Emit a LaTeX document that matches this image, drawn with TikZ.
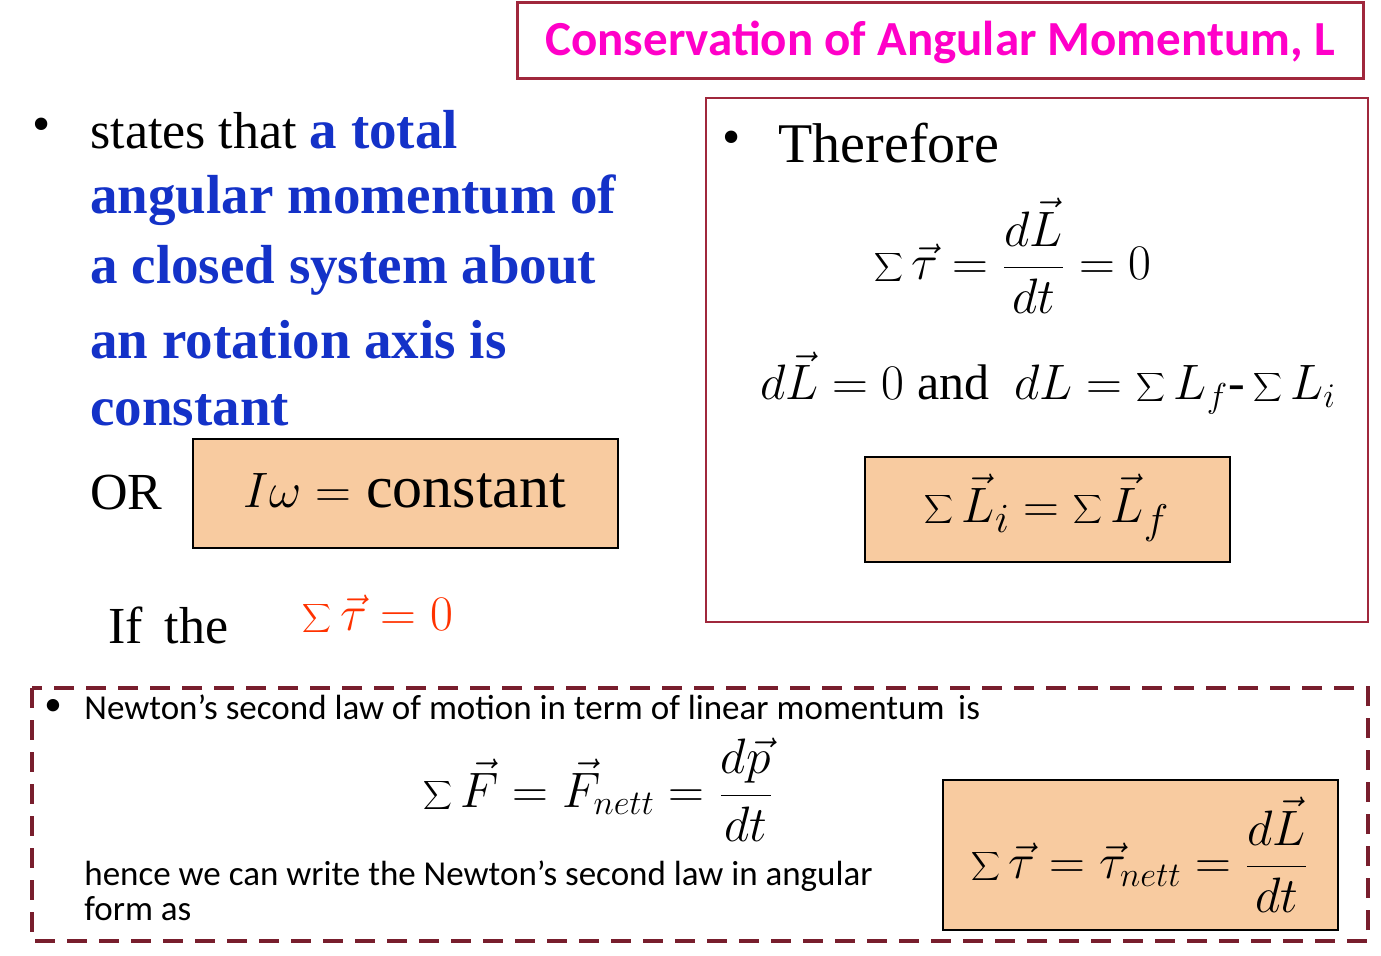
\documentclass[tikz,border=0pt]{standalone}
\usepackage{fontspec}
\setmainfont{Liberation Serif}
\newfontfamily\calib{Carlito}
\definecolor{dred}{RGB}{160,40,60}
\definecolor{bred}{RGB}{120,30,45}
\definecolor{obox}{RGB}{248,203,160}
\definecolor{tblue}{RGB}{20,50,200}
\definecolor{tmag}{RGB}{255,0,200}
\definecolor{tred}{RGB}{255,50,0}
\tikzset{
 orbox/.style={draw=black,line width=1pt,fill=obox},
 bt/.style={font=\fontsize{26}{30}\selectfont,anchor=west,inner sep=0},
 bl/.style={font=\fontsize{27.5}{30}\selectfont\bfseries,text=tblue,anchor=west,inner sep=0},
 cal/.style={font=\calib\fontsize{17.5}{18}\selectfont,anchor=west,inner sep=0},
 mth/.style={font=\fontsize{25}{30}\selectfont,inner sep=0}
}
\begin{document}
\begin{tikzpicture}[x=0.5pt,y=-0.5pt]
\useasboundingbox (0,0) rectangle (1381,955);
% title
\draw[dred,line width=1.5pt] (517,2) rectangle (1363,78);
\node (title) at (940,42) {\calib\bfseries\fontsize{24.5}{26}\selectfont\color{tmag}Conservation of Angular Momentum, L};
% left text
\node[bt] (b1) at (32,130) {•};
\node[bt] (l1) at (90,130) {states that \textcolor{tblue}{\fontsize{27.5}{30}\selectfont\bfseries a total}};
\node[bl] (l2) at (90,200) {angular momentum of};
\node[bl] (l3) at (90,270) {a closed system about};
\node[bl] (l4) at (90,340) {an rotation axis is};
\node[bl] (l5) at (90,410) {constant};
\node[bt] (or) at (90,493) {OR};
\draw[orbox] (193,439) rectangle (618,548);
\node[mth,font=\fontsize{30}{34}\selectfont] (ic) at (405,491) {$I\omega=$ constant};
\node[bt] (if) at (108,625) {If\, the};
\node[mth,font=\fontsize{30}{34}\selectfont,text=tred] (tz) at (378,615) {$\displaystyle\sum\vec\tau=0$};
% right box
\draw[dred,line width=0.7pt] (706,98) rectangle (1368,622);
\node[bt] (b2) at (722,143) {•};
\node[bt,font=\fontsize{28}{32}\selectfont] (th) at (778,143) {Therefore};
\node[mth,font=\fontsize{28}{32}\selectfont] (e1) at (1013,256) {$\displaystyle\sum\vec\tau=\frac{d\vec L}{dt}=0$};
\node[mth] (e2) at (1048,383) {$\displaystyle d\vec L=0$ and \ $\displaystyle dL=\sum L_f\mbox{-}\sum L_i$};
\draw[orbox] (865,457) rectangle (1230,562);
\node[mth,font=\fontsize{28}{32}\selectfont] (e3) at (1047,508) {$\displaystyle\sum\vec L_i=\sum\vec L_f$};
% bottom dashed box
\draw[bred,line width=2pt,dash pattern=on 10pt off 6pt] (32,688) rectangle (1368,941);
\node[cal] (b3) at (44,707) {•};
\node[cal] (nw) at (84,707) {Newton’s second law of motion in term of linear momentum\, is};
\node[mth] (e4) at (598,790) {$\displaystyle\sum\vec F=\vec F_{nett}=\frac{d\vec p}{dt}$};
\node[cal] (h1) at (84,876) {hence we can write the Newton’s second law in angular};
\node[cal] (h2) at (84,909) {form as};
\draw[orbox] (943,780) rectangle (1338,930);
\node[mth] (e5) at (1140,855) {$\displaystyle\sum\vec\tau=\vec\tau_{nett}=\frac{d\vec L}{dt}$};
\end{tikzpicture}
\end{document}
